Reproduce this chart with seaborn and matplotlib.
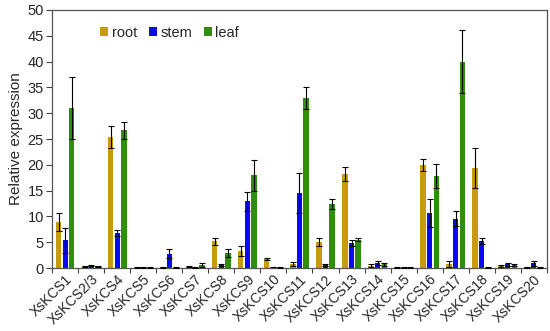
import numpy as np
import pandas as pd
import matplotlib
matplotlib.use('Agg')
import matplotlib.pyplot as plt
import seaborn as sns

sns.set_theme(style='white')
plt.rcParams['font.family'] = ['Liberation Sans', 'DejaVu Sans']

genes = ['XsKCS1', 'XsKCS2/3', 'XsKCS4', 'XsKCS5', 'XsKCS6', 'XsKCS7', 'XsKCS8',
         'XsKCS9', 'XsKCS10', 'XsKCS11', 'XsKCS12', 'XsKCS13', 'XsKCS14', 'XsKCS15',
         'XsKCS16', 'XsKCS17', 'XsKCS18', 'XsKCS19', 'XsKCS20']
tissues = ['root', 'stem', 'leaf']

root = [8.9, 0.4, 25.4, 0.1, 0.2, 0.3, 5.2, 3.3, 1.8, 0.8, 5.1, 18.2, 0.5, 0.1, 20.0, 0.8, 19.4, 0.4, 0.2]
root_err = [1.8, 0.1, 2.2, 0.05, 0.1, 0.1, 0.7, 1.0, 0.2, 0.3, 0.8, 1.3, 0.3, 0.05, 1.1, 0.5, 3.9, 0.2, 0.1]
stem = [5.4, 0.5, 6.8, 0.1, 2.8, 0.1, 0.6, 12.9, 0.2, 14.6, 0.6, 4.9, 1.0, 0.1, 10.6, 9.6, 5.3, 0.7, 0.9]
stem_err = [2.4, 0.1, 0.5, 0.05, 0.9, 0.05, 0.1, 1.9, 0.05, 3.9, 0.1, 0.6, 0.4, 0.05, 2.7, 1.5, 0.6, 0.3, 0.5]
leaf = [31.0, 0.4, 26.7, 0.1, 0.1, 0.6, 2.9, 18.0, 0.1, 32.9, 12.4, 5.5, 0.7, 0.1, 17.9, 40.0, 0.2, 0.6, 0.1]
leaf_err = [6.0, 0.1, 1.6, 0.05, 0.05, 0.3, 0.8, 3.0, 0.05, 2.1, 0.9, 0.3, 0.3, 0.05, 2.3, 6.1, 0.1, 0.2, 0.05]

colors = {'root': '#c99a0c', 'stem': '#0a0af0', 'leaf': '#2f8f0a'}

df = pd.DataFrame({
    'gene': genes * 3,
    'tissue': ['root'] * len(genes) + ['stem'] * len(genes) + ['leaf'] * len(genes),
    'value': root + stem + leaf,
    'err': root_err + stem_err + leaf_err,
})

fig, ax = plt.subplots(figsize=(5.5, 3.31), dpi=100)
fig.subplots_adjust(left=0.095, right=0.994, top=0.97, bottom=0.19)

sns.barplot(data=df, x='gene', y='value', hue='tissue', hue_order=tissues,
            palette=colors, width=0.76, gap=0.2, errorbar=None, ax=ax,
            saturation=1, linewidth=0)

# error bars at each bar centre
for cont, t in zip(ax.containers, tissues):
    sub = df[df.tissue == t]
    xs = [p.get_x() + p.get_width() / 2 for p in cont.patches]
    ax.errorbar(xs, sub['value'], yerr=sub['err'], fmt='none', ecolor='black',
                elinewidth=0.8, capsize=2.2, capthick=0.8, zorder=5)

ax.set_ylim(0, 50)
ax.set_xlim(-0.5, len(genes) - 0.5)
ax.set_yticks(range(0, 51, 5))
ax.tick_params(axis='y', labelsize=10.5, length=4, direction='out', left=True,
               width=0.8, color='#444444', pad=2)
ax.set_xticks(range(len(genes)))
ax.set_xticklabels(genes, rotation=45, ha='right', rotation_mode='anchor', fontsize=10)
ax.tick_params(axis='x', which='major', length=0, pad=3)
ax.set_xticks(np.arange(-0.5, len(genes), 1.0), minor=True)
ax.tick_params(axis='x', which='minor', length=3.5, bottom=True, width=0.8, color='#444444')
ax.set_xlabel('')
ax.set_ylabel('Relative expression', fontsize=11, labelpad=3)
for s in ax.spines.values():
    s.set_color('#555555')
    s.set_linewidth(0.9)

ax.legend(loc='upper left', bbox_to_anchor=(0.07, 0.99), ncol=3, frameon=False,
          fontsize=10.5, handlelength=0.55, handleheight=0.55, handletextpad=0.25,
          columnspacing=0.8)

fig.savefig('out.png', dpi=100)
